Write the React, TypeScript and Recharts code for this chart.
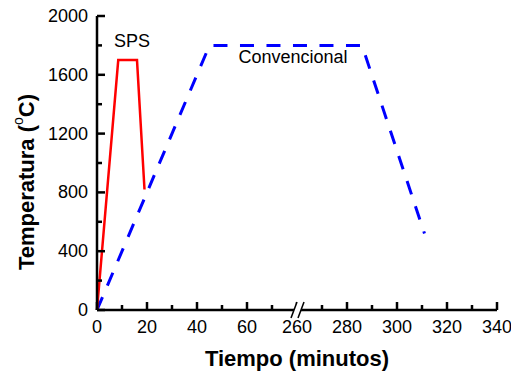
import React from 'react';
import { LineChart, Line, XAxis, YAxis, ReferenceDot } from 'recharts';

// tiempo (min) y temperatura (°C)
const spsTime = [0, 8.5, 16, 19];
const spsTemp = [0, 1700, 1700, 820];
const convTime = [0, 45, 286, 311];
const convTemp = [0, 1800, 1800, 520];

// eje x cortado entre 60 y 260 minutos
const breakFrom = 260;
const breakShift = 180;
const toAxis = (t: number) => (t >= breakFrom ? t - breakShift : t);

const xTicks = [0, 10, 20, 30, 40, 50, 60, 70, 80, 90, 100, 110, 120, 130, 140, 150, 160];
const xMajor = [0, 20, 40, 60, 80, 100, 120, 140, 160];
const xLabels = ['0', '20', '40', '60', '260', '280', '300', '320', '340'];
const yTicks = [0, 200, 400, 600, 800, 1000, 1200, 1400, 1600, 1800, 2000];
const yMajor = [0, 400, 800, 1200, 1600, 2000];

const spsData = spsTime.map((t, i) => ({ x: toAxis(t), sps: spsTemp[i] }));
const convData = convTime.map((t, i) => ({ x: toAxis(t), conv: convTemp[i] }));

const font = '"Liberation Sans", Arial, sans-serif';
const axisLine = { stroke: '#000', strokeWidth: 2.5 };
const tickColor = '#000';

const XTick = (props: any) => {
  const { x, y, payload } = props;
  const idx = xMajor.indexOf(payload.value);
  const ay = y - 8; // línea del eje
  return (
    <g>
      <path d={`M${x},${ay} V${ay - (idx >= 0 ? 8 : 5)}`} stroke={tickColor} strokeWidth={2.5} fill="none" />
      {idx >= 0 && (
        <text x={x} y={ay + 23} textAnchor="middle" fontSize={18} fontFamily={font} fill="#000">
          {xLabels[idx]}
        </text>
      )}
      {payload.value === 80 && (
        <g>
          <polygon points={`${x - 6},${ay + 7} ${x + 1},${ay + 7} ${x + 7},${ay - 8} ${x},${ay - 8}`} fill="#fff" />
          <line x1={x - 6} y1={ay + 8} x2={x} y2={ay - 8} stroke="#000" strokeWidth={1.5} />
          <line x1={x + 1} y1={ay + 8} x2={x + 7} y2={ay - 8} stroke="#000" strokeWidth={1.5} />
        </g>
      )}
    </g>
  );
};

const YTick = (props: any) => {
  const { x, y, payload } = props;
  const major = yMajor.includes(payload.value);
  const ax = x + 8; // línea del eje
  return (
    <g>
      <path d={`M${ax},${y} H${ax + (major ? 8 : 5)}`} stroke={tickColor} strokeWidth={2.5} fill="none" />
      {major && (
        <text x={ax - 9} y={y + 6} textAnchor="end" fontSize={18} fontFamily={font} fill="#000">
          {payload.value}
        </text>
      )}
    </g>
  );
};

const YTitle = () => {
  const cx = 26;
  const cy = 182;
  return (
    <text
      x={cx}
      y={cy}
      transform={`rotate(-90 ${cx} ${cy})`}
      textAnchor="middle"
      dominantBaseline="central"
      fontSize={22}
      fontWeight="bold"
      fontFamily={font}
      fill="#000"
    >
      Temperatura (<tspan dy={-8} fontSize={14} fontWeight="normal">o</tspan>
      <tspan dy={8}>C)</tspan>
    </text>
  );
};

const App: React.FC = () => {
  return (
    <div style={{ position: 'absolute', left: 0, top: 0, background: '#fff' }}>
      <LineChart width={511} height={375} margin={{ top: 16, right: 14, bottom: 33, left: 37 }}>
        <XAxis
          dataKey="x"
          type="number"
          domain={[0, 160]}
          ticks={xTicks}
          interval={0}
          tick={<XTick />}
          tickLine={false}
          axisLine={axisLine}
          height={32}
          label={{
            value: 'Tiempo (minutos)',
            position: 'insideBottom',
            offset: -24,
            fontSize: 22,
            fontWeight: 'bold',
            fontFamily: font,
            fill: '#000',
          }}
        />
        <XAxis xAxisId="top" orientation="top" type="number" domain={[0, 160]} tick={false} tickLine={false} height={0} axisLine={axisLine} />
        <YAxis
          type="number"
          domain={[0, 2000]}
          ticks={yTicks}
          interval={0}
          tick={<YTick />}
          tickLine={false}
          axisLine={axisLine}
          width={60}
          label={<YTitle />}
        />
        <YAxis yAxisId="right" orientation="right" domain={[0, 2000]} tick={false} tickLine={false} width={0} axisLine={axisLine} />
        <Line
          data={convData}
          dataKey="conv"
          type="linear"
          stroke="#0000ff"
          strokeWidth={3}
          strokeDasharray="14 12.5"
          dot={false}
          isAnimationActive={false}
        />
        <Line
          data={spsData}
          dataKey="sps"
          type="linear"
          stroke="#ff0000"
          strokeWidth={2.5}
          dot={false}
          isAnimationActive={false}
        />
        <ReferenceDot x={14} y={1830} r={0} label={{ value: 'SPS', position: 'center', fontSize: 18, fontFamily: font, fill: '#000' }} />
        <ReferenceDot x={78.4} y={1724} r={0} label={{ value: 'Convencional', position: 'center', fontSize: 18, fontFamily: font, fill: '#000' }} />
      </LineChart>
    </div>
  );
};

export default App;
